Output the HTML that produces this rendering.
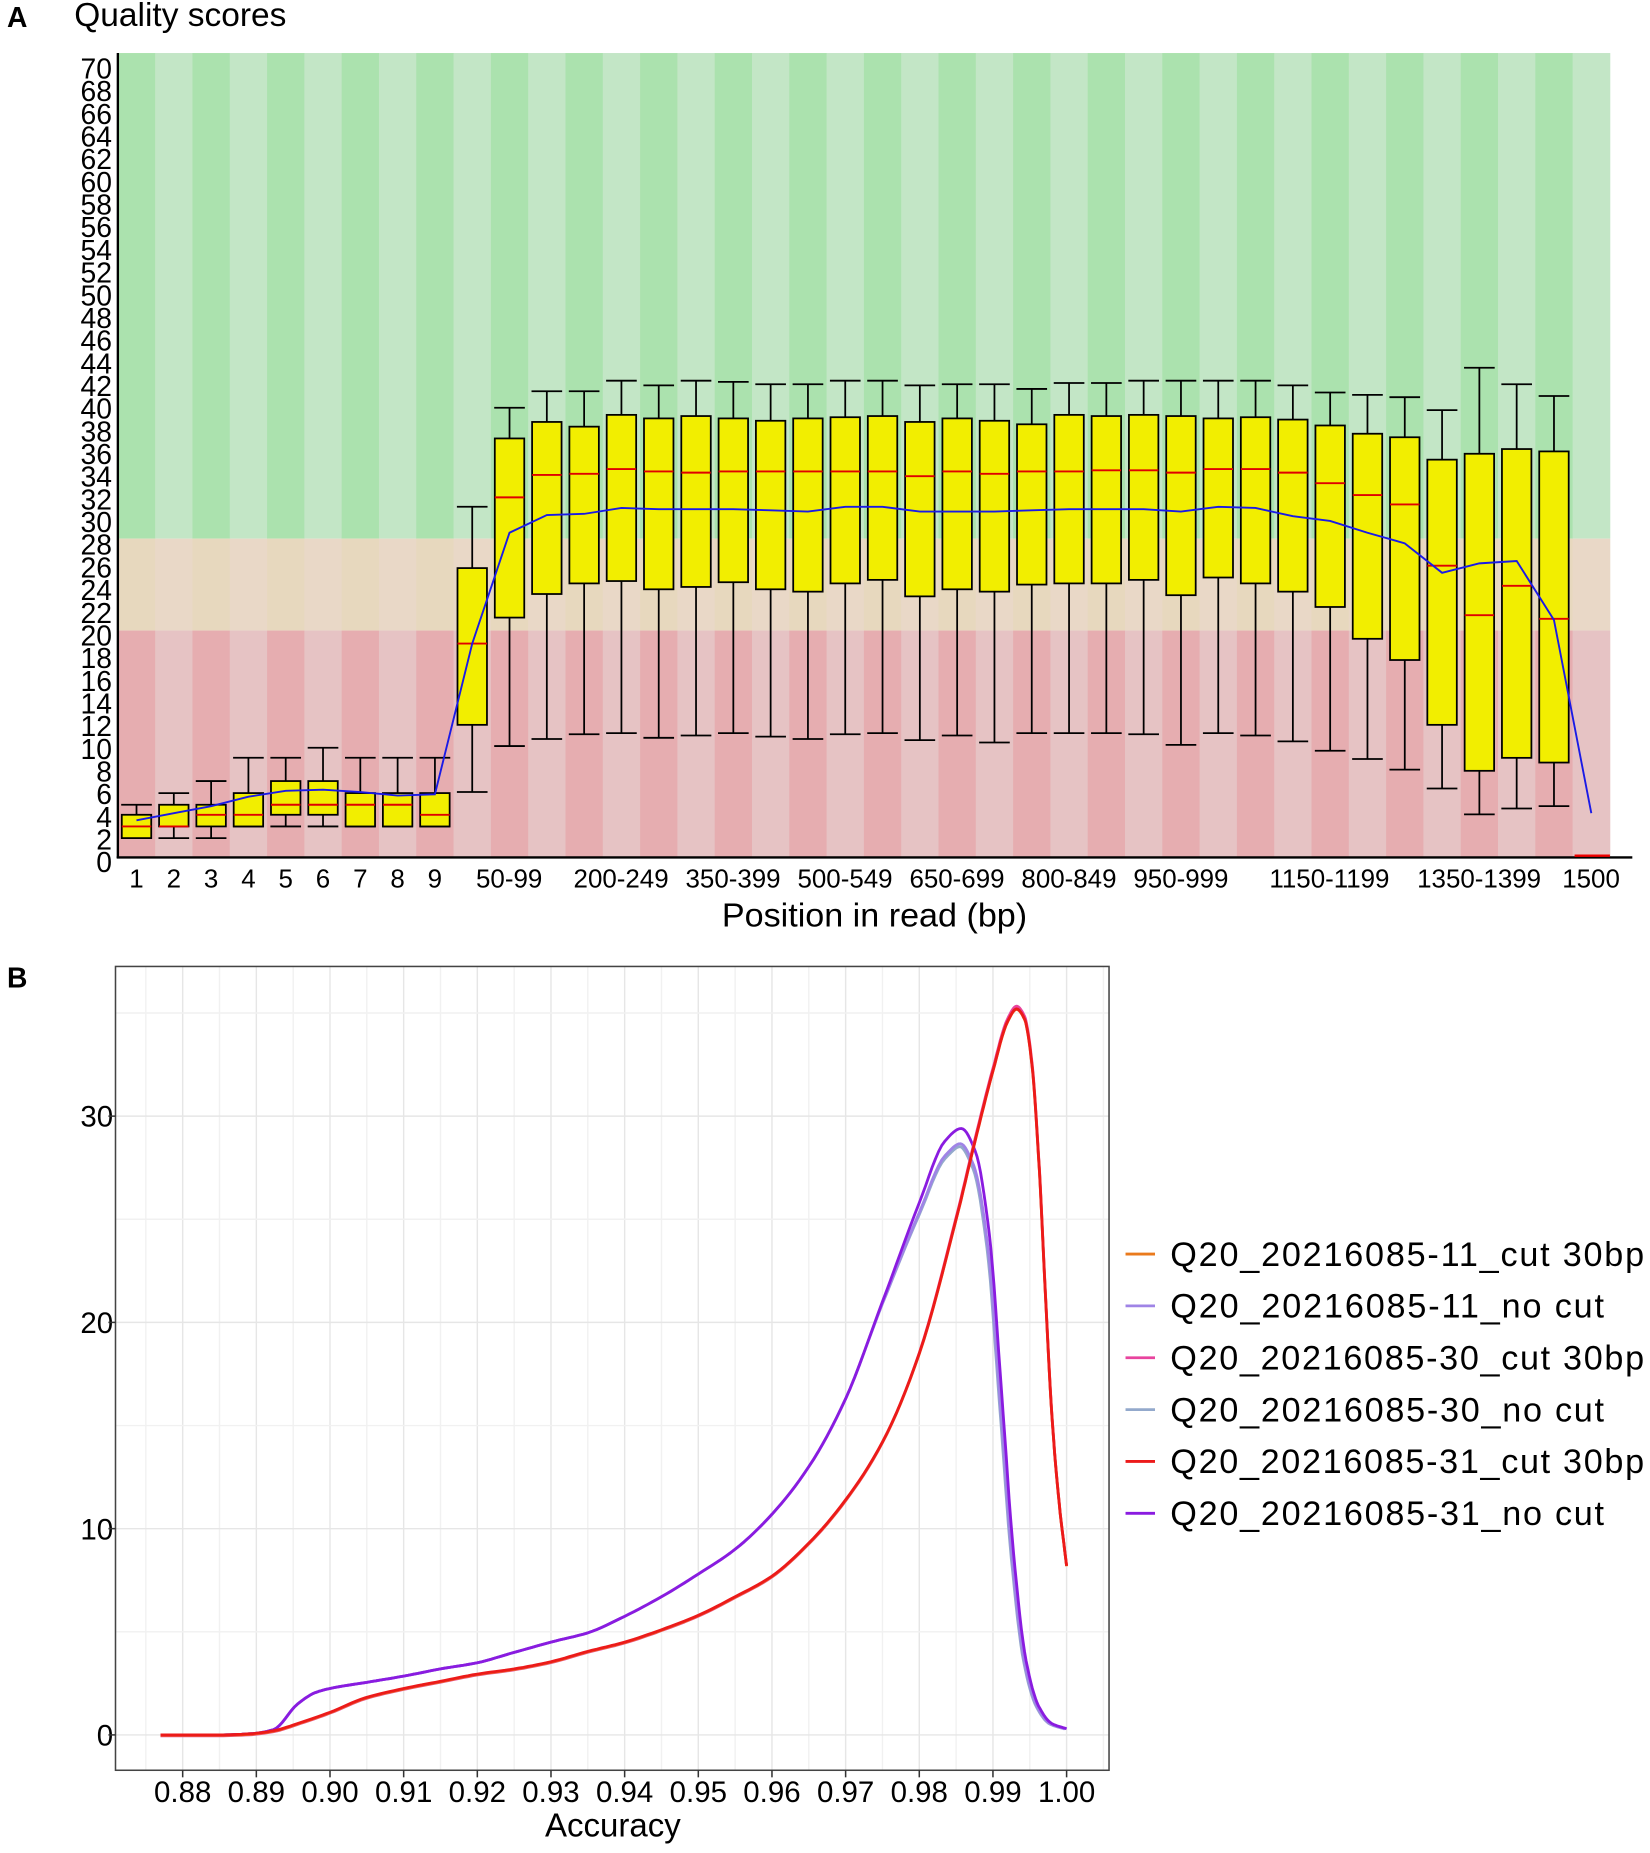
<!DOCTYPE html>
<html><head><meta charset="utf-8"><style>
html,body{margin:0;padding:0;background:#fff}
svg{display:block}
text{font-family:"Liberation Sans",sans-serif}
</style></head><body>
<svg id="s" width="1650" height="1853" viewBox="0 0 1400 1572.2" preserveAspectRatio="none" xmlns="http://www.w3.org/2000/svg">
<g id="bgA"></g>
<g id="gridB"></g>
<text x="6" y="23" font-size="24" font-weight="bold">A</text>
<text x="63" y="22" font-size="28" font-family="DejaVu Sans, Liberation Sans, sans-serif" font-weight="300" textLength="180" lengthAdjust="spacingAndGlyphs">Quality scores</text>
<g id="ytA" font-size="24" text-anchor="end"></g>
<g id="boxes"></g>
<polyline id="mean" fill="none" stroke="#1a1ae6" stroke-width="1.6"/>
<line x1="100" y1="45" x2="100" y2="728" stroke="#000" stroke-width="2"/>
<line x1="99" y1="727.5" x2="1385" y2="727.5" stroke="#000" stroke-width="2"/>
<line x1="1336" y1="726" x2="1366" y2="726" stroke="#e00" stroke-width="2"/>
<g font-size="22" text-anchor="middle">
<text x="115.8" y="753">1</text><text x="147.5" y="753">2</text><text x="179.1" y="753">3</text>
<text x="210.8" y="753">4</text><text x="242.4" y="753">5</text><text x="274" y="753">6</text>
<text x="305.7" y="753">7</text><text x="337.4" y="753">8</text><text x="369" y="753">9</text>
<text x="432" y="753">50-99</text><text x="527" y="753">200-249</text><text x="622" y="753">350-399</text>
<text x="717" y="753">500-549</text><text x="812" y="753">650-699</text><text x="907" y="753">800-849</text>
<text x="1002" y="753">950-999</text><text x="1128" y="753">1150-1199</text><text x="1255" y="753">1350-1399</text>
<text x="1350" y="753">1500</text>
</g>
<text x="742" y="786" font-size="28" text-anchor="middle" font-family="DejaVu Sans, Liberation Sans, sans-serif" font-weight="300" textLength="259" lengthAdjust="spacingAndGlyphs">Position in read (bp)</text>

<text x="6" y="838" font-size="24" font-weight="bold">B</text>
<rect x="98" y="820" width="843" height="682" fill="none" stroke="#444" stroke-width="1.3"/>
<g id="curves" fill="none" stroke-width="2.4" stroke-linejoin="round"></g>
<g font-size="25" text-anchor="end">
<text x="96" y="1481">0</text><text x="96" y="1306">10</text><text x="96" y="1131">20</text><text x="96" y="956">30</text>
</g>
<g stroke="#333" stroke-width="1.3">
<line x1="92" y1="1472" x2="98" y2="1472"/><line x1="92" y1="1297" x2="98" y2="1297"/><line x1="92" y1="1122" x2="98" y2="1122"/><line x1="92" y1="947" x2="98" y2="947"/>
</g>
<g id="xtB" font-size="25" text-anchor="middle"></g>
<text x="520" y="1558" font-size="28" text-anchor="middle">Accuracy</text>
<g stroke-width="2.4">
<line x1="955" y1="1064" x2="980" y2="1064" stroke="#ea7a1c"/>
<line x1="955" y1="1108" x2="980" y2="1108" stroke="#9f84e6"/>
<line x1="955" y1="1152" x2="980" y2="1152" stroke="#e8449e"/>
<line x1="955" y1="1196" x2="980" y2="1196" stroke="#93a9cc"/>
<line x1="955" y1="1240" x2="980" y2="1240" stroke="#ec1a1a"/>
<line x1="955" y1="1284" x2="980" y2="1284" stroke="#8a1be0"/>
</g>
<g font-size="29" lengthAdjust="spacingAndGlyphs">
<text x="993" y="1074" textLength="402">Q20_20216085-11_cut 30bp</text>
<text x="993" y="1118" textLength="368">Q20_20216085-11_no cut</text>
<text x="993" y="1162" textLength="402">Q20_20216085-30_cut 30bp</text>
<text x="993" y="1206" textLength="368">Q20_20216085-30_no cut</text>
<text x="993" y="1250" textLength="402">Q20_20216085-31_cut 30bp</text>
<text x="993" y="1294" textLength="368">Q20_20216085-31_no cut</text>
</g>
</svg>
<script>
var NS="http://www.w3.org/2000/svg";
function el(t,a,p){var e=document.createElementNS(NS,t);for(var k in a)e.setAttribute(k,a[k]);p.appendChild(e);return e;}
var bg=document.getElementById("bgA");
var W=31.65;
function cx(i){return 100+W*(i-0.5);}
var cols=[["#abe2ae","#c3e6c6"],["#e7d8be","#e9d8c7"],["#e6adb0","#e6c3c4"]];
for(var i=0;i<40;i++){
 var x=100+W*i,k=i%2;
 el("rect",{x:x,y:45,width:W+0.3,height:412,fill:cols[0][k]},bg);
 el("rect",{x:x,y:457,width:W+0.3,height:78,fill:cols[1][k]},bg);
 el("rect",{x:x,y:535,width:W+0.3,height:192,fill:cols[2][k]},bg);
}
var yt=document.getElementById("ytA");
for(var v=0;v<=70;v+=2){var t=el("text",{x:95,y:(740-v*9.62).toFixed(1)},yt);t.textContent=v;}
var B=[
[682.8,691.3,701.2,711.1,711.1],[672.9,682.8,701.2,701.2,711.1],[662.7,682.8,691.3,701.2,711.1],
[642.9,672.9,691.3,701.2,701.2],[642.9,662.7,682.8,691.3,701.2],[634.4,662.7,682.8,691.3,701.2],
[642.9,672.9,682.8,701.2,701.2],[642.9,672.9,682.8,701.2,701.2],[642.9,672.9,691.3,701.2,701.2],
[430,482,546,615,672],[346,372,422,524,633],[332,358,403,504,627],[332,362,402,495,623],
[323,352,398,493,622],[327,355,400,500,626],[323,353,401,498,624],[324,355,400,494,622],
[326,357,400,500,625],[326,355,400,502,627],[323,354,400,495,623],[323,353,400,492,622],
[327,358,404,506,628],[326,355,400,500,624],[326,357,402,502,630],[330,360,400,496,622],
[325,352,400,495,622],[325,353,399,495,622],[323,352,399,492,623],[323,353,401,505,632],
[323,355,398,490,622],[323,354,398,495,624],[327,356,401,502,629],[333,361,410,515,637],
[335,368,420,542,644],[337,371,428,560,653],[348,390,480,615,669],[312,385,522,654,691],
[326,381,497,643,686],[336,383,525,647,684]];
var bx=document.getElementById("boxes");
B.forEach(function(b,j){
 var c=cx(j+1),h=12.5;
 el("line",{x1:c,y1:b[0],x2:c,y2:b[1],stroke:"#000","stroke-width":1.5},bx);
 el("line",{x1:c,y1:b[3],x2:c,y2:b[4],stroke:"#000","stroke-width":1.5},bx);
 el("line",{x1:c-13,y1:b[0],x2:c+13,y2:b[0],stroke:"#000","stroke-width":1.5},bx);
 el("line",{x1:c-13,y1:b[4],x2:c+13,y2:b[4],stroke:"#000","stroke-width":1.5},bx);
 el("rect",{x:c-h,y:b[1],width:2*h,height:Math.max(b[3]-b[1],0.5),fill:"#f2ee00",stroke:"#000","stroke-width":1.5},bx);
 el("line",{x1:c-h,y1:b[2],x2:c+h,y2:b[2],stroke:"#e00000","stroke-width":1.6},bx);
});
var M=[696,690,684,676,671,670,672,675,674,546,452,437,436,431,432,432,432,433,434,430,430,434,434,434,433,432,432,432,434,430,431,438,442,452,461,486,478,476,526,690];
document.getElementById("mean").setAttribute("points",M.map(function(y,i){return cx(i+1).toFixed(1)+","+y;}).join(" "));

// Panel B
function X(a){return 155+(a-0.88)*6250;}
function Y(v){return 1472-17.5*v;}
var g=document.getElementById("gridB");
for(var a=0.875;a<1.006;a+=0.005){var xx=X(a);el("line",{x1:xx,y1:820,x2:xx,y2:1502,stroke:(Math.round(a*1000)%10==0)?"#e6e6e6":"#f1f1f1","stroke-width":1.2},g);}
for(var v=0;v<=35;v+=5){el("line",{x1:98,y1:Y(v),x2:941,y2:Y(v),stroke:v%10==0?"#e6e6e6":"#f1f1f1","stroke-width":1.2},g);}
var xt=document.getElementById("xtB");
["0.88","0.89","0.90","0.91","0.92","0.93","0.94","0.95","0.96","0.97","0.98","0.99","1.00"].forEach(function(s,i){
 var xx=X(0.88+i*0.01);el("line",{x1:xx,y1:1502,x2:xx,y2:1508,stroke:"#333","stroke-width":1.3},xt);
 var t=el("text",{x:xx,y:1529},xt);t.textContent=s;});
var cut=[[0.877,0],[0.885,0],[0.889,0.05],[0.8923,0.2],[0.896,0.6],[0.9,1.1],[0.9048,1.8],[0.91,2.25],[0.915,2.6],[0.92,2.95],[0.925,3.2],[0.93,3.55],[0.935,4.05],[0.94,4.5],[0.945,5.1],[0.95,5.8],[0.955,6.7],[0.96,7.7],[0.965,9.3],[0.97,11.4],[0.975,14.2],[0.98,18.5],[0.985,25],[0.9875,28.7],[0.99,32.2],[0.992,34.6],[0.9932,35.2],[0.9943,34.7],[0.9953,32.5],[0.9962,28],[0.9971,21.5],[0.998,15.5],[0.999,11.2],[1.0,8.2]];
var nocut=[[0.877,0],[0.885,0],[0.889,0.05],[0.8923,0.25],[0.8956,1.5],[0.898,2.05],[0.9,2.25],[0.905,2.55],[0.91,2.85],[0.915,3.2],[0.92,3.5],[0.925,4.0],[0.93,4.5],[0.935,4.95],[0.94,5.75],[0.945,6.7],[0.95,7.8],[0.955,9.0],[0.96,10.7],[0.965,13.0],[0.97,16.3],[0.975,21.0],[0.98,25.8],[0.9835,28.8],[0.9857,29.4],[0.9876,28.3],[0.9895,24.3],[0.9912,16.5],[0.9928,8.8],[0.9945,3.6],[0.9962,1.4],[0.998,0.55],[1.0,0.3]];
function mono(d){ // monotone cubic sample
 var n=d.length,xs=d.map(function(p){return p[0];}),ys=d.map(function(p){return p[1];});
 var dl=[],m=[];for(var i=0;i<n-1;i++)dl.push((ys[i+1]-ys[i])/(xs[i+1]-xs[i]));
 m[0]=dl[0];m[n-1]=dl[n-2];
 for(var i=1;i<n-1;i++){ if(dl[i-1]*dl[i]<=0)m[i]=0; else {var h0=xs[i]-xs[i-1],h1=xs[i+1]-xs[i];m[i]=3*(h0+h1)/((2*h1+h0)/dl[i-1]+(h1+2*h0)/dl[i]);} }
 var out=[];
 for(var i=0;i<n-1;i++){var h=xs[i+1]-xs[i];for(var s=0;s<8;s++){var t=s/8,t2=t*t,t3=t2*t;
  var y=(2*t3-3*t2+1)*ys[i]+(t3-2*t2+t)*h*m[i]+(-2*t3+3*t2)*ys[i+1]+(t3-t2)*h*m[i+1];out.push([xs[i]+t*h,y]);}}
 out.push([xs[n-1],ys[n-1]]);return out;
}
function ss(a,b,x){var t=Math.min(1,Math.max(0,(x-a)/(b-a)));return t*t*(3-2*t);}
function path(d,sc,dx,dy){
 var p=mono(d).map(function(q){var f=1-(1-sc)*ss(0.972,0.984,q[0]);return [X(q[0]+dx*ss(0.984,0.987,q[0])),Y(q[1]*f)+(dy||0)];});
 return "M"+p.map(function(q){return q[0].toFixed(1)+","+q[1].toFixed(1);}).join(" L");
}
var cv=document.getElementById("curves");
el("path",{d:path(nocut,0.97,-0.0003),stroke:"#93a9cc"},cv);
el("path",{d:path(nocut,0.975,-0.0002),stroke:"#9f84e6"},cv);
el("path",{d:path(nocut,1,0),stroke:"#8a1be0"},cv);
el("path",{d:path(cut,1.005,0,0.8),stroke:"#e8449e"},cv);
el("path",{d:path(cut,1,0,0.4),stroke:"#ea7a1c"},cv);
el("path",{d:path(cut,1,0),stroke:"#ec1a1a"},cv);
</script>
</body></html>
